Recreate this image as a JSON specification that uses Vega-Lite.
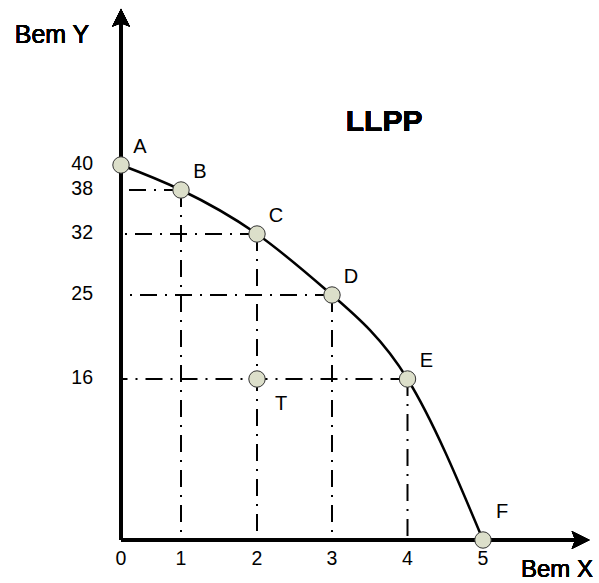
{
  "$schema": "https://vega.github.io/schema/vega-lite/v6.json",
  "width": 599,
  "height": 583,
  "autosize": {"type": "none"},
  "padding": 0,
  "background": "white",
  "config": {"view": {"stroke": null}, "font": "Liberation Sans", "text": {"font": "Liberation Sans", "color": "black"}},
  "data": {
    "values": [
      {"p": "A", "x": 0, "y": 40},
      {"p": "B", "x": 1, "y": 38},
      {"p": "C", "x": 2, "y": 32},
      {"p": "D", "x": 3, "y": 25},
      {"p": "E", "x": 4, "y": 16},
      {"p": "F", "x": 5, "y": 0},
      {"p": "T", "x": 2, "y": 16}
    ]
  },
  "layer": [
    {
      "transform": [{"filter": "indexof(['B','C','D','E'], datum.p) >= 0"}],
      "mark": {"type": "rule", "strokeDash": [17, 8, 2, 8], "strokeWidth": 2, "color": "black"},
      "encoding": {
        "x": {"field": "x", "type": "quantitative", "axis": null, "scale": {"type": "linear", "domain": [0, 1, 2, 3, 4, 5], "range": [121, 181, 257, 332, 407.5, 483], "nice": false, "zero": false}},
        "x2": {"datum": 0},
        "y": {"field": "y", "type": "quantitative", "axis": null, "scale": {"type": "linear", "domain": [0, 16, 25, 32, 38, 40], "range": [540, 379, 295, 234, 190, 165], "nice": false, "zero": false}}
      }
    },
    {
      "transform": [{"filter": "indexof(['B','C','D','E'], datum.p) >= 0"}],
      "mark": {"type": "rule", "strokeDash": [17, 8, 2, 8], "strokeWidth": 2, "color": "black"},
      "encoding": {
        "x": {"field": "x", "type": "quantitative", "axis": null},
        "y": {"field": "y", "type": "quantitative", "axis": null},
        "y2": {"datum": 0}
      }
    },
    {
      "mark": {"type": "rule", "strokeWidth": 3, "color": "black"},
      "encoding": {
        "x": {"datum": 0, "type": "quantitative", "axis": null},
        "y": {"datum": 0, "type": "quantitative", "axis": null},
        "y2": {"datum": 51.7}
      }
    },
    {
      "mark": {"type": "rule", "strokeWidth": 3, "color": "black"},
      "encoding": {
        "y": {"datum": 0, "type": "quantitative", "axis": null},
        "x": {"datum": 0, "type": "quantitative", "axis": null},
        "x2": {"datum": 6.28}
      }
    },
    {
      "mark": {"type": "point", "filled": true, "color": "black", "opacity": 1, "size": 400, "shape": "M0,-1 L0.9,0.8 L0,0.45 L-0.9,0.8 Z"},
      "encoding": {
        "x": {"datum": 0, "type": "quantitative", "axis": null},
        "y": {"datum": 51.7, "type": "quantitative", "axis": null}
      }
    },
    {
      "mark": {"type": "point", "filled": true, "color": "black", "opacity": 1, "size": 400, "shape": "M1,0 L-0.8,0.9 L-0.45,0 L-0.8,-0.9 Z"},
      "encoding": {
        "x": {"datum": 6.28, "type": "quantitative", "axis": null},
        "y": {"datum": 0, "type": "quantitative", "axis": null}
      }
    },
    {
      "transform": [{"filter": "datum.p != 'T'"}],
      "mark": {"type": "line", "interpolate": "natural", "strokeWidth": 2.5, "color": "black"},
      "encoding": {
        "x": {"field": "x", "type": "quantitative", "axis": null},
        "y": {"field": "y", "type": "quantitative", "axis": null}
      }
    },
    {
      "mark": {"type": "point", "filled": true, "size": 270, "fill": "#dcdfca", "stroke": "#333333", "strokeWidth": 1, "opacity": 1},
      "encoding": {
        "x": {"field": "x", "type": "quantitative", "axis": null},
        "y": {"field": "y", "type": "quantitative", "axis": null}
      }
    },
    {
      "transform": [{"filter": "indexof(['A','B','C','D','E'], datum.p) >= 0"}],
      "mark": {"type": "text", "fontSize": 20, "dx": 19, "dy": -18, "align": "center", "baseline": "middle"},
      "encoding": {
        "x": {"field": "x", "type": "quantitative", "axis": null},
        "y": {"field": "y", "type": "quantitative", "axis": null},
        "text": {"field": "p", "type": "nominal"}
      }
    },
    {
      "transform": [{"filter": "datum.p == 'F'"}],
      "mark": {"type": "text", "fontSize": 20, "dx": 19, "dy": -28, "align": "center", "baseline": "middle"},
      "encoding": {
        "x": {"field": "x", "type": "quantitative", "axis": null},
        "y": {"field": "y", "type": "quantitative", "axis": null},
        "text": {"field": "p", "type": "nominal"}
      }
    },
    {
      "transform": [{"filter": "datum.p == 'T'"}],
      "mark": {"type": "text", "fontSize": 20, "dx": 24, "dy": 25, "align": "center", "baseline": "middle"},
      "encoding": {
        "x": {"field": "x", "type": "quantitative", "axis": null},
        "y": {"field": "y", "type": "quantitative", "axis": null},
        "text": {"field": "p", "type": "nominal"}
      }
    },
    {
      "transform": [{"filter": "datum.p != 'F' && datum.p != 'T'"}],
      "mark": {"type": "text", "fontSize": 19.5, "dx": -28, "dy": -1, "align": "right", "baseline": "middle"},
      "encoding": {
        "x": {"datum": 0, "type": "quantitative", "axis": null},
        "y": {"field": "y", "type": "quantitative", "axis": null},
        "text": {"field": "y", "type": "quantitative"}
      }
    },
    {
      "transform": [{"filter": "datum.p != 'T'"}],
      "mark": {"type": "text", "fontSize": 19.5, "dy": 19, "align": "center", "baseline": "middle"},
      "encoding": {
        "x": {"field": "x", "type": "quantitative", "axis": null},
        "y": {"datum": 0, "type": "quantitative", "axis": null},
        "text": {"field": "x", "type": "quantitative"}
      }
    },
    {
      "mark": {"type": "text", "fontSize": 25, "align": "center", "baseline": "middle"},
      "encoding": {
        "x": {"datum": -1.15, "type": "quantitative", "axis": null},
        "y": {"datum": 50.4, "type": "quantitative", "axis": null},
        "text": {"value": "Bem Y"}
      }
    },
    {
      "mark": {"type": "text", "fontSize": 24, "align": "center", "baseline": "alphabetic"},
      "encoding": {
        "x": {"datum": 5.98, "type": "quantitative", "axis": null},
        "y": {"datum": -3.65, "type": "quantitative", "axis": null},
        "text": {"value": "Bem X"}
      }
    },
    {
      "mark": {"type": "text", "fontSize": 30, "fontWeight": "bold", "align": "center", "baseline": "middle"},
      "encoding": {
        "x": {"datum": 3.69, "type": "quantitative", "axis": null},
        "y": {"datum": 43.44, "type": "quantitative", "axis": null},
        "text": {"value": "LLPP"}
      }
    }
  ]
}
